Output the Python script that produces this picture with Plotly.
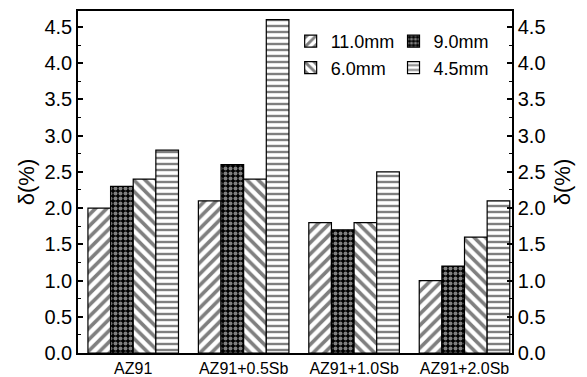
import plotly.graph_objects as go

categories = ["AZ91", "AZ91+0.5Sb", "AZ91+1.0Sb", "AZ91+2.0Sb"]
series_names = ["11.0mm", "9.0mm", "6.0mm", "4.5mm"]
v_11 = [2.0, 2.1, 1.8, 1.0]
v_9 = [2.3, 2.6, 1.7, 1.2]
v_6 = [2.4, 2.4, 1.8, 1.6]
v_45 = [2.8, 4.6, 2.5, 2.1]
y_ticks = [0.0, 0.5, 1.0, 1.5, 2.0, 2.5, 3.0, 3.5, 4.0, 4.5]

patterns = [
    dict(shape="/", fgcolor="black", bgcolor="white", size=8, solidity=0.45),
    dict(shape=".", fgcolor="white", bgcolor="black", size=5, solidity=0.5),
    dict(shape="\\", fgcolor="black", bgcolor="white", size=8, solidity=0.45),
    dict(shape="-", fgcolor="black", bgcolor="white", size=6, solidity=0.4),
]
legend_ids = ["legend", "legend2", "legend", "legend2"]

fig = go.Figure()
for name, vals, pat, lg in zip(series_names, [v_11, v_9, v_6, v_45], patterns, legend_ids):
    fig.add_trace(go.Bar(
        x=categories, y=vals, name=name, legend=lg,
        marker=dict(color="white", line=dict(color="black", width=1.2), pattern=pat),
    ))

# invisible trace for right axis
fig.add_trace(go.Scatter(x=categories, y=v_11, yaxis="y2", mode="markers",
                         marker=dict(opacity=0), showlegend=False, hoverinfo="skip"))

font = "Liberation Sans, Arial, sans-serif"
yax = dict(
    range=[0, 4.72], tickvals=y_ticks, ticktext=[f"{t:.1f}" for t in y_ticks],
    ticks="inside", ticklen=5, tickwidth=1.5, tickcolor="black",
    minor=dict(ticks="inside", ticklen=3, tickwidth=1.2, tickcolor="black", dtick=0.25),
    showgrid=False, zeroline=False, showline=True, linecolor="black", linewidth=1.5,
    tickfont=dict(size=20, color="black", family=font), automargin=False,
    title=dict(text="δ(%)", font=dict(size=22, color="black", family=font), standoff=4),
)
yax2 = dict(yax)
yax2["title"] = dict(text="δ(%)", font=dict(size=22, color="black", family=font), standoff=10)
leg = dict(orientation="v", y=0.965, xanchor="left", yanchor="top",
           font=dict(size=18, color="black", family=font),
           bgcolor="rgba(0,0,0,0)", itemwidth=30, tracegroupgap=0)
fig.update_layout(
    width=587, height=377,
    margin=dict(l=78, r=75, t=11, b=24, autoexpand=False),
    paper_bgcolor="white", plot_bgcolor="white",
    barmode="group", bargap=0.18, bargroupgap=0,
    font=dict(family=font, color="black"),
    xaxis=dict(showline=True, linecolor="black", linewidth=2, mirror=True,
               ticks="", showgrid=False, range=[-0.5, 3.43], automargin=False,
               tickfont=dict(size=16, color="black", family=font)),
    yaxis=yax,
    yaxis2=dict(yax2, overlaying="y", side="right", matches="y"),
    legend=dict(leg, x=0.49),
    legend2=dict(leg, x=0.727),
    showlegend=True,
)
fig.write_html("out.html")
